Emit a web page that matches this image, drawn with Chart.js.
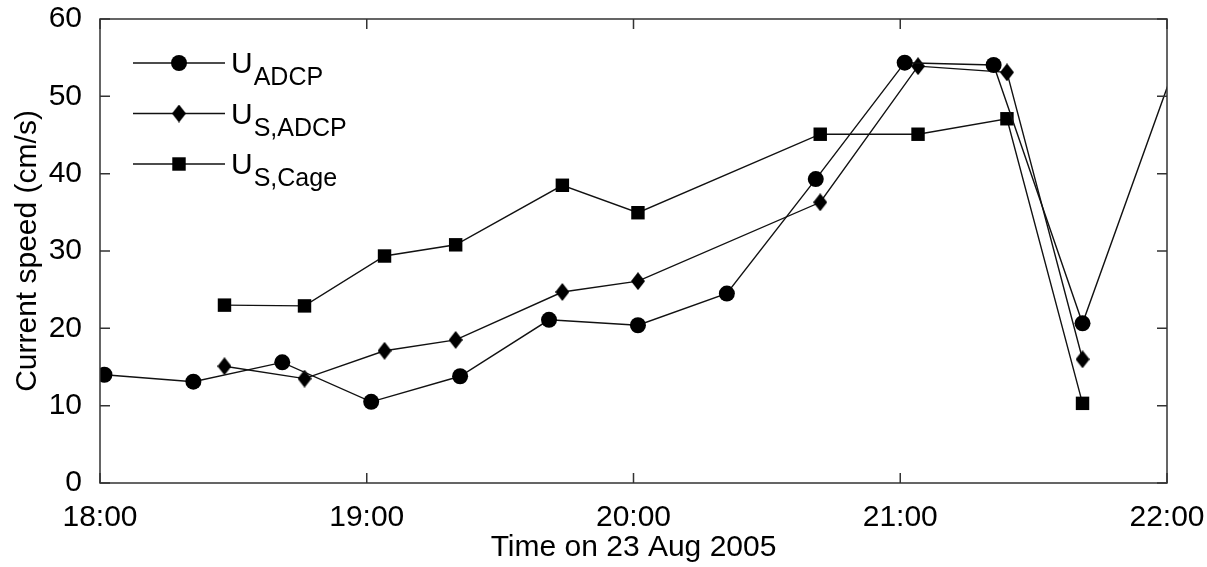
<!DOCTYPE html>
<html>
<head>
<meta charset="utf-8">
<title>Current speed, 23 Aug 2005</title>
<script src="https://cdn.jsdelivr.net/npm/chart.js@4.4.1/dist/chart.umd.min.js"></script>
<style>
  html, body { margin: 0; padding: 0; background: #fff; }
  canvas { display: block; }
</style>
</head>
<body>
<canvas id="speedChart" width="1207" height="567"></canvas>
<script>
/*
 * Current speed time series from the moored ADCP and the ship/cage surveys.
 * Times are local clock "HH:MM" on 23 Aug 2005, speeds in cm/s.
 */

// ADCP ensembles (the last one falls just past 22:00 and is clipped)
const adcpTimes = ['18:01', '18:21', '18:41', '19:01', '19:21', '19:41', '20:01',
  '20:21', '20:41', '21:01', '21:21', '21:41', '22:01'];
const adcpSpeed = [14.0, 13.1, 15.6, 10.5, 13.8, 21.1, 20.4, 24.5, 39.3, 54.35, 54.05, 20.65, 52.7];

// survey stations, shared by the ship ADCP and the cage measurements
const surveyTimes = ['18:28', '18:46', '19:04', '19:20', '19:44', '20:01', '20:42',
  '21:04', '21:24', '21:41'];
const sAdcpSpeed = [15.1, 13.5, 17.1, 18.5, 24.7, 26.1, 36.3, 53.9, 53.1, 16.0];
const sCageSpeed = [23.0, 22.9, 29.35, 30.8, 38.5, 34.95, 45.1, 45.1, 47.1, 10.3];

// axis ticks
const hourTicks = [18, 19, 20, 21, 22];
const hourTickLabels = ['18:00', '19:00', '20:00', '21:00', '22:00'];
const speedTicks = [0, 10, 20, 30, 40, 50, 60];

// legend text: big "U" plus subscript
const seriesSymbol = ['U', 'U', 'U'];
const seriesSubscript = ['ADCP', 'S,ADCP', 'S,Cage'];

const X_MIN = hourTicks[0];
const X_MAX = hourTicks[hourTicks.length - 1];
const FONT = '"Liberation Sans", Arial, Helvetica, sans-serif';
const FONT_SIZE = 30;

// "HH:MM" -> decimal hours
function toHours(hhmm) {
  const [h, m] = hhmm.split(':').map(Number);
  return h + m / 60;
}

function toPoints(times, values) {
  return times.map((t, i) => ({ x: toHours(t), y: values[i] }));
}

// tall diamond marker, Chart.js rectRot is too squat
function makeDiamond(w, h) {
  const c = document.createElement('canvas');
  c.width = w;
  c.height = h;
  const g = c.getContext('2d');
  g.fillStyle = '#000';
  g.beginPath();
  g.moveTo(w / 2, 0);
  g.lineTo(w, h / 2);
  g.lineTo(w / 2, h);
  g.lineTo(0, h / 2);
  g.closePath();
  g.fill();
  return c;
}
const diamond = makeDiamond(14, 18);

// box around the plot with inward ticks on all four sides
const frameTicks = {
  id: 'frameTicks',
  afterDatasetsDraw(chart) {
    const { ctx, chartArea: a, scales } = chart;
    const len = 10;
    ctx.save();
    ctx.strokeStyle = '#333';
    ctx.lineWidth = 1.5;
    ctx.beginPath();
    scales.x.ticks.forEach((t) => {
      const px = scales.x.getPixelForValue(t.value);
      ctx.moveTo(px, a.bottom);
      ctx.lineTo(px, a.bottom - len);
      ctx.moveTo(px, a.top);
      ctx.lineTo(px, a.top + len);
    });
    scales.y.ticks.forEach((t) => {
      const py = scales.y.getPixelForValue(t.value);
      ctx.moveTo(a.left, py);
      ctx.lineTo(a.left + len, py);
      ctx.moveTo(a.right, py);
      ctx.lineTo(a.right - len, py);
    });
    ctx.stroke();
    ctx.strokeRect(a.left, a.top, a.right - a.left, a.bottom - a.top);
    ctx.restore();
  },
};

// legend with subscripted labels, drawn inside the upper-left corner
const subscriptLegend = {
  id: 'subscriptLegend',
  afterDraw(chart) {
    const ctx = chart.ctx;
    const lineX0 = 133;
    const lineX1 = 225;
    const textX = 231;
    const rowTop = 63;
    const rowStep = 50.5;
    ctx.save();
    chart.data.datasets.forEach((ds, i) => {
      const y = rowTop + i * rowStep;
      ctx.strokeStyle = ds.borderColor;
      ctx.lineWidth = ds.borderWidth;
      ctx.beginPath();
      ctx.moveTo(lineX0, y);
      ctx.lineTo(lineX1, y);
      ctx.stroke();

      ctx.fillStyle = ds.pointBackgroundColor;
      ctx.strokeStyle = ds.pointBorderColor;
      Chart.helpers.drawPoint(ctx, {
        pointStyle: ds.pointStyle,
        radius: ds.legendRadius,
        rotation: 0,
        borderWidth: 0,
      }, (lineX0 + lineX1) / 2, y);

      ctx.fillStyle = '#000';
      ctx.textAlign = 'left';
      ctx.textBaseline = 'alphabetic';
      ctx.font = `30px ${FONT}`;
      ctx.fillText(seriesSymbol[i], textX, y + 10);
      const w = ctx.measureText(seriesSymbol[i]).width;
      ctx.font = `25px ${FONT}`;
      ctx.fillText(seriesSubscript[i], textX + w + 1, y + 22);
    });
    ctx.restore();
  },
};

function baseSeries(label, data, style, radius) {
  return {
    label,
    data,
    borderColor: '#111',
    borderWidth: 1.4,
    pointStyle: style,
    pointBackgroundColor: '#000',
    pointBorderColor: '#000',
    pointBorderWidth: 0,
    // points past the last hour sit outside the axes and are not marked
    pointRadius: (c) => (c.raw && c.raw.x > X_MAX ? 0 : radius),
    legendRadius: radius,
    tension: 0,
    fill: false,
  };
}

const ctx = document.getElementById('speedChart').getContext('2d');
new Chart(ctx, {
  type: 'line',
  data: {
    datasets: [
      baseSeries('U_ADCP', toPoints(adcpTimes, adcpSpeed), 'circle', 8),
      baseSeries('U_S,ADCP', toPoints(surveyTimes, sAdcpSpeed), diamond, 8),
      baseSeries('U_S,Cage', toPoints(surveyTimes, sCageSpeed), 'rect', 9.5),
    ],
  },
  options: {
    responsive: false,
    animation: false,
    events: [],
    layout: { padding: { top: 19, right: 40, bottom: 0, left: 0 } },
    plugins: {
      legend: { display: false },
      tooltip: { enabled: false },
    },
    scales: {
      x: {
        type: 'linear',
        min: X_MIN,
        max: X_MAX,
        grid: { display: false },
        border: { display: false },
        // fixed box: the layout padding alone sets the plot edges
        afterFit: (scale) => {
          scale.height = 84;
          scale.paddingLeft = 0;
          scale.paddingRight = 0;
        },
        afterBuildTicks: (scale) => {
          scale.ticks = hourTicks.map((v) => ({ value: v }));
        },
        ticks: {
          autoSkip: false,
          maxRotation: 0,
          padding: 9,
          color: '#000',
          font: { family: FONT, size: FONT_SIZE },
          callback: (value, index) => hourTickLabels[index],
        },
        title: {
          display: true,
          text: 'Time on 23 Aug 2005',
          color: '#000',
          font: { family: FONT, size: FONT_SIZE },
          padding: { top: 0, bottom: 1 },
        },
      },
      y: {
        type: 'linear',
        min: speedTicks[0],
        max: speedTicks[speedTicks.length - 1],
        grid: { display: false },
        border: { display: false },
        afterFit: (scale) => {
          scale.width = 100;
          scale.paddingTop = 0;
          scale.paddingBottom = 0;
        },
        afterBuildTicks: (scale) => {
          scale.ticks = speedTicks.map((v) => ({ value: v }));
        },
        ticks: {
          padding: 10,
          color: '#000',
          font: { family: FONT, size: FONT_SIZE },
        },
        title: {
          display: true,
          text: 'Current speed (cm/s)',
          color: '#000',
          font: { family: FONT, size: FONT_SIZE },
          padding: { top: 10, bottom: 0 },
        },
      },
    },
  },
  plugins: [frameTicks, subscriptLegend],
});
</script>
</body>
</html>
